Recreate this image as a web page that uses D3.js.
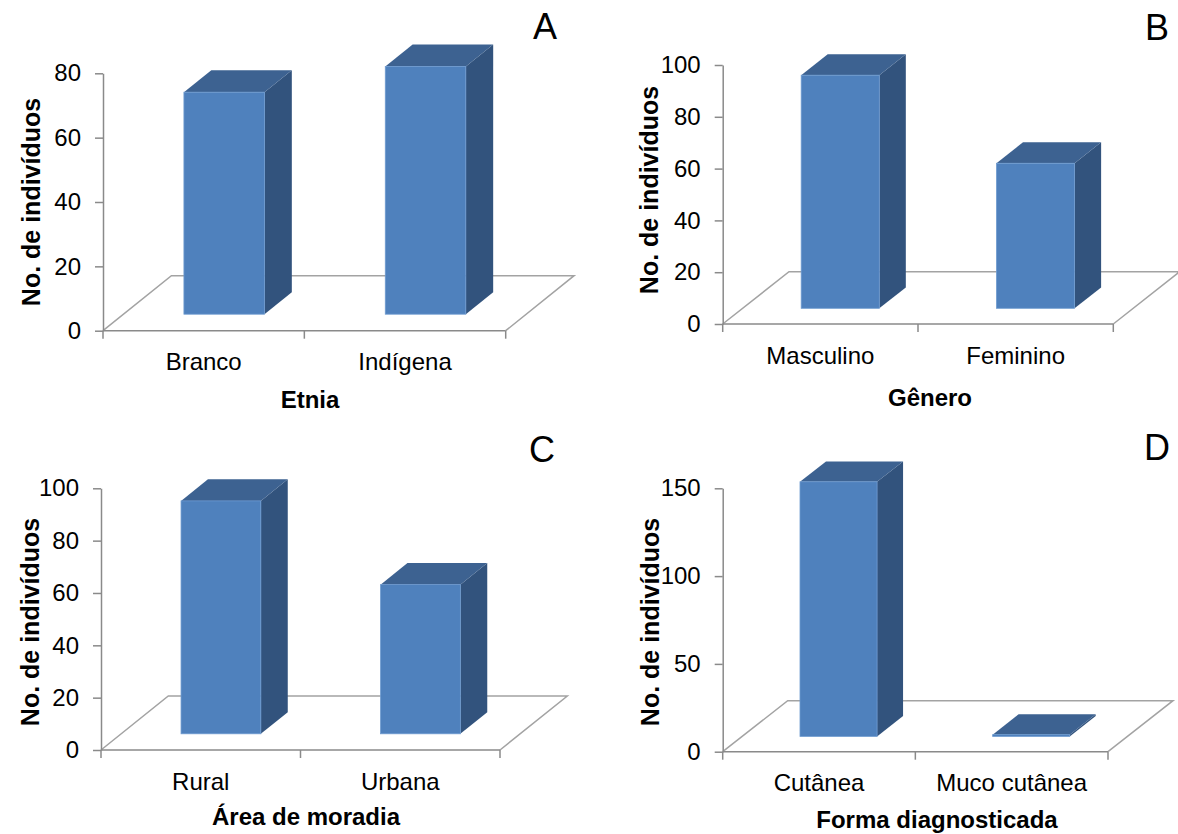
<!DOCTYPE html>
<html>
<head>
<meta charset="utf-8">
<script src="https://cdn.jsdelivr.net/npm/d3@7"></script>
<style>
  html, body { margin: 0; padding: 0; background: #fff; }
  svg { display: block; }
  text { font-family: "Liberation Sans", Arial, sans-serif; fill: #000; }
</style>
</head>
<body>
<svg id="chart" width="1178" height="834"></svg>
<script>
// Panel A: Etnia
const etniaCats = ["Branco", "Indígena"];
const etniaVals = [69, 77];
const etniaTicks = [0, 20, 40, 60, 80];

// Panel B: Gênero
const generoCats = ["Masculino", "Feminino"];
const generoVals = [90, 56];
const generoTicks = [0, 20, 40, 60, 80, 100];

// Panel C: Área de moradia
const moradiaCats = ["Rural", "Urbana"];
const moradiaVals = [89, 57];
const moradiaTicks = [0, 20, 40, 60, 80, 100];

// Panel D: Forma diagnosticada
const formaCats = ["Cutânea", "Muco cutânea"];
const formaVals = [145, 1];
const formaTicks = [0, 50, 100, 150];

const yLabel = "No. de indivíduos";

// Geometry of each panel: front floor edge, value range, oblique depth vector
const panels = [
  { letter: "A", title: "Etnia", cats: etniaCats, vals: etniaVals, ticks: etniaTicks,
    x0: 103, x1: 505.7, y0: 330.7, yTop: 73.3, dx: 68.4, dy: -55,
    letterPos: [545, 39], titlePos: [310, 408], yTitlePos: [40, 202] },
  { letter: "B", title: "Gênero", cats: generoCats, vals: generoVals, ticks: generoTicks,
    x0: 722.7, x1: 1113.3, y0: 324, yTop: 65, dx: 66.3, dy: -52.3,
    letterPos: [1157, 40], titlePos: [930, 406], yTitlePos: [658, 190] },
  { letter: "C", title: "Área de moradia", cats: moradiaCats, vals: moradiaVals, ticks: moradiaTicks,
    x0: 101, x1: 500, y0: 750, yTop: 488.3, dx: 67.3, dy: -54,
    letterPos: [542, 462], titlePos: [306, 825], yTitlePos: [39, 622] },
  { letter: "D", title: "Forma diagnosticada", cats: formaCats, vals: formaVals, ticks: formaTicks,
    x0: 722.7, x1: 1108, y0: 751.7, yTop: 488.3, dx: 65, dy: -51,
    letterPos: [1157, 460], titlePos: [937, 828], yTitlePos: [659, 622] }
];

const colors = {
  front: "#4f81bd",
  frontEdge: "#6e9bd0",
  top: "#3d6291",
  side: "#32537d",
  floor: "#a3a3a3",
  axis: "#8a8a8a"
};

// Bars occupy the middle part of the floor depth and 40% of each band
const depthFront = 0.30, depthBack = 0.70, barFrac = 0.40;

const svg = d3.select("#chart");

panels.forEach(p => {
  const g = svg.append("g");
  const x = d3.scaleBand().domain(p.cats).range([p.x0, p.x1]).padding(0);
  const y = d3.scaleLinear().domain([0, d3.max(p.ticks)]).range([p.y0, p.yTop]);
  const line = d3.line();

  // Floor outline (back, left and right edges)
  const fl = [p.x0, p.y0], fr = [p.x1, p.y0];
  const bl = [p.x0 + p.dx, p.y0 + p.dy], br = [p.x1 + p.dx, p.y0 + p.dy];
  g.append("path").attr("d", line([fl, bl, br, fr]))
    .attr("fill", "none").attr("stroke", colors.floor).attr("stroke-width", 1.5);

  // 3D columns
  const ox = depthFront * p.dx, oy = depthFront * p.dy;
  const ddx = (depthBack - depthFront) * p.dx, ddy = (depthBack - depthFront) * p.dy;
  const bw = x.bandwidth() * barFrac;
  p.cats.forEach((c, i) => {
    const cx = x(c) + x.bandwidth() / 2 + ox;
    const left = cx - bw / 2, right = cx + bw / 2;
    const bottom = y(0) + oy, top = y(p.vals[i]) + oy;
    const bar = g.append("g");
    // side face
    bar.append("path").attr("d", line([[right, top], [right + ddx, top + ddy], [right + ddx, bottom + ddy], [right, bottom]]) + "Z")
      .attr("fill", colors.side);
    // top face
    bar.append("path").attr("d", line([[left, top], [left + ddx, top + ddy], [right + ddx, top + ddy], [right, top]]) + "Z")
      .attr("fill", colors.top);
    // front face
    bar.append("rect").attr("x", left).attr("y", top)
      .attr("width", bw).attr("height", Math.max(0, bottom - top))
      .attr("fill", colors.front).attr("stroke", colors.frontEdge).attr("stroke-width", 0.8);
  });

  // Value axis
  const yAxis = g.append("g").attr("transform", `translate(${p.x0},0)`)
    .call(d3.axisLeft(y).tickValues(p.ticks).tickSize(8).tickSizeOuter(0).tickPadding(14).tickFormat(d3.format("d")));
  yAxis.select(".domain").attr("stroke", colors.axis).attr("stroke-width", 1.5);
  yAxis.selectAll(".tick line").attr("stroke", colors.axis).attr("stroke-width", 1.5);
  yAxis.selectAll(".tick text").style("font-size", "24px").attr("fill", "#000");

  // Category axis: front floor edge, boundary ticks and labels
  g.append("line").attr("x1", p.x0).attr("x2", p.x1).attr("y1", p.y0).attr("y2", p.y0)
    .attr("stroke", colors.axis).attr("stroke-width", 1.5);
  const bounds = p.cats.map(c => x(c)).concat([x.range()[1]]);
  g.selectAll(".ctick").data(bounds).enter().append("line")
    .attr("x1", d => d).attr("x2", d => d).attr("y1", p.y0).attr("y2", p.y0 + 8)
    .attr("stroke", colors.axis).attr("stroke-width", 1.5);
  g.selectAll(".clabel").data(p.cats).enter().append("text")
    .attr("x", d => x(d) + x.bandwidth() / 2).attr("y", p.y0 + 39.5)
    .attr("text-anchor", "middle").style("font-size", "24px").text(d => d);

  // Axis titles
  g.append("text").attr("x", p.titlePos[0]).attr("y", p.titlePos[1])
    .attr("text-anchor", "middle").style("font-size", "24px").style("font-weight", "bold").text(p.title);
  g.append("text").attr("transform", `translate(${p.yTitlePos[0]},${p.yTitlePos[1]}) rotate(-90)`)
    .attr("text-anchor", "middle").style("font-size", "25px").style("font-weight", "bold").text(yLabel);

  // Panel letter
  g.append("text").attr("x", p.letterPos[0]).attr("y", p.letterPos[1])
    .attr("text-anchor", "middle").style("font-size", "36px").text(p.letter);
});
</script>
</body>
</html>
